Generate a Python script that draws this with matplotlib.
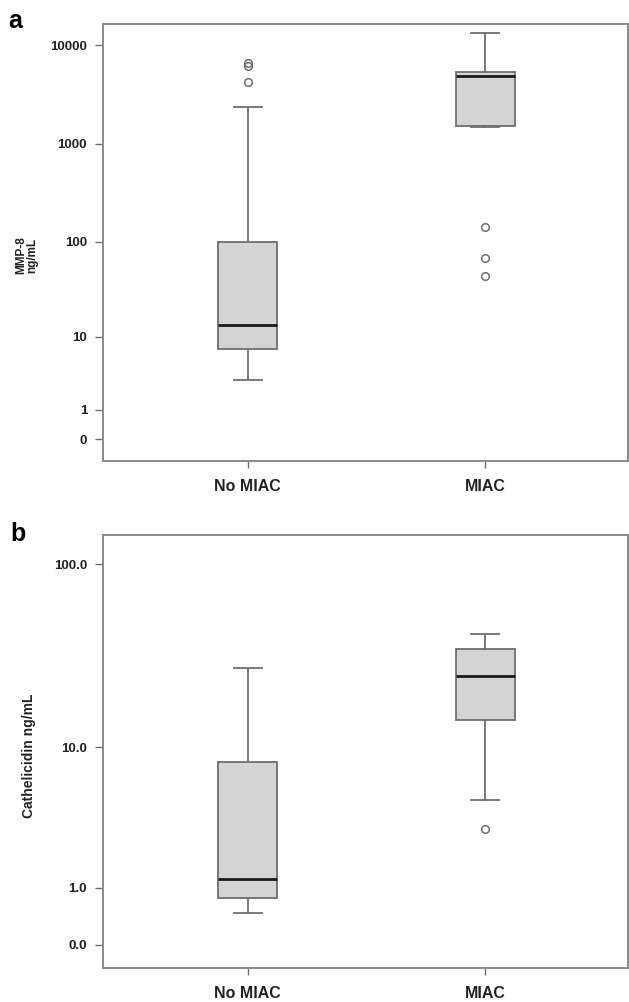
import numpy as np
import matplotlib.pyplot as plt

groups = ["No MIAC", "MIAC"]

# panel a: MMP-8 (ng/mL)
mmp_q1 = [7.3, 1520]
mmp_med = [13.5, 4850]
mmp_q3 = [99, 5400]
mmp_lo = [3.0, 1470]
mmp_hi = [2350, 13200]
mmp_out = [[6560, 6210, 4240], [141, 68, 44.5]]

# panel b: cathelicidin (ng/mL)
cat_q1 = [0.77, 14.3]
cat_med = [1.22, 25.0]
cat_q3 = [8.2, 35.2]
cat_lo = [0.47, 4.8]
cat_hi = [27.5, 42.3]
cat_out = [[], [3.1]]

a_ticks = [0, 1, 10, 100, 1000, 10000]
a_labels = ["0", "1", "10", "100", "1000", "10000"]
b_ticks = [0, 1, 10, 100]
b_labels = ["0.0", "1.0", "10.0", "100.0"]

plt.rcParams['font.family'] = ['Liberation Sans', 'DejaVu Sans']


def fwd(x):
    return np.log10(np.clip(np.asarray(x, dtype=float) + 1, 1e-6, None))


def inv(u):
    return 10 ** np.asarray(u, dtype=float) - 1


def panel(ax, q1, med, q3, lo, hi, out):
    stats = []
    for i in range(len(groups)):
        stats.append(dict(q1=q1[i], med=med[i], q3=q3[i], whislo=lo[i],
                          whishi=hi[i], fliers=np.array(out[i])))
    ax.set_yscale('function', functions=(fwd, inv))
    ax.bxp(stats, positions=[1, 2], widths=0.25, capwidths=0.12,
           patch_artist=True,
           boxprops=dict(facecolor='#d4d4d4', edgecolor='#6e6e6e', linewidth=1.3),
           medianprops=dict(color='#1a1a1a', linewidth=2.0),
           whiskerprops=dict(color='#6e6e6e', linewidth=1.3),
           capprops=dict(color='#6e6e6e', linewidth=1.3),
           flierprops=dict(marker='o', markersize=5.5, markerfacecolor='none',
                           markeredgecolor='#6e6e6e', markeredgewidth=1.1))
    ax.set_xlim(0.39, 2.6)
    ax.set_xticks([1, 2])
    ax.set_xticklabels(groups, fontsize=11.5, fontweight='bold', color='#222222')
    for s in ax.spines.values():
        s.set_color('#8a8a8a')
        s.set_linewidth(1.4)
    ax.tick_params(axis='both', colors='#6e6e6e', width=1, labelcolor='#222222')
    ax.tick_params(axis='y', length=6, pad=5.5)
    ax.tick_params(axis='x', length=5, pad=8)
    ax.minorticks_off()


fig = plt.figure(figsize=(6.29, 10.02), dpi=100)
ax1 = fig.add_axes([0.1638, 0.540, 0.834, 0.436])
ax2 = fig.add_axes([0.1638, 0.034, 0.834, 0.432])

panel(ax1, mmp_q1, mmp_med, mmp_q3, mmp_lo, mmp_hi, mmp_out)
ax1.set_ylim(-0.397, 16440)
ax1.set_yticks(a_ticks)
ax1.set_yticklabels(a_labels, fontsize=9.5, fontweight='bold')
ax1.minorticks_off()
ax1.set_ylabel("MMP-8\nng/mL", fontsize=8.5, fontweight='bold', color='#222222',
               linespacing=0.85)
ax1.yaxis.set_label_coords(-0.124, 0.47)

panel(ax2, cat_q1, cat_med, cat_q3, cat_lo, cat_hi, cat_out)
ax2.set_ylim(-0.243, 142.5)
ax2.set_yticks(b_ticks)
ax2.set_yticklabels(b_labels, fontsize=9.5, fontweight='bold')
ax2.minorticks_off()
ax2.set_ylabel("Cathelicidin ng/mL", fontsize=10, fontweight='bold', color='#222222')
ax2.yaxis.set_label_coords(-0.128, 0.49)

fig.text(0.013, 0.979, "a", fontsize=18, fontweight='bold', va='center')
fig.text(0.017, 0.467, "b", fontsize=18, fontweight='bold', va='center')

fig.savefig("out.png", dpi=100)
